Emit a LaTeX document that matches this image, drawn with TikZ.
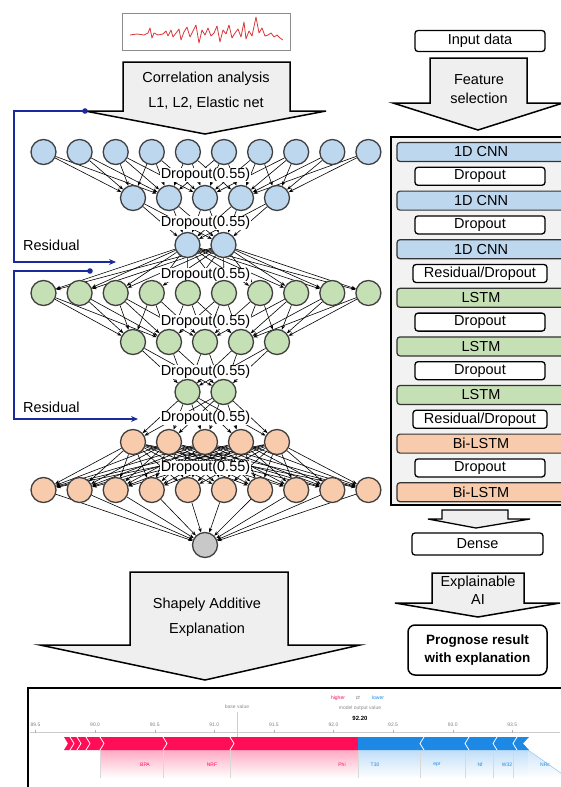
\documentclass[tikz,border=0pt]{standalone}
\usepackage{fontspec}
\setmainfont{Liberation Sans}
\newfontfamily\dejavu{DejaVu Sans}
\usetikzlibrary{arrows.meta}
\definecolor{nblue}{HTML}{BDD7EE}
\definecolor{ngreen}{HTML}{C5E0B4}
\definecolor{norange}{HTML}{F8CBAD}
\definecolor{ngray}{HTML}{C8C8C8}
\definecolor{navy}{HTML}{1A2A9A}
\definecolor{shapred}{HTML}{FF0D57}
\definecolor{shapblue}{HTML}{1E88E5}
\definecolor{arrowfill}{HTML}{EFEFEF}
\definecolor{panelfill}{HTML}{F2F2F2}
\definecolor{sigred}{HTML}{D9383A}
\pgfdeclarelayer{bglayer}
\pgfdeclarelayer{edgelayer}
\pgfdeclarelayer{labellayer}
\pgfsetlayers{bglayer,edgelayer,labellayer,main}
\begin{document}
\begin{tikzpicture}[x=1pt,y=-1pt,
  neuron/.style={circle,draw=black!75,line width=1.3pt,minimum size=25pt,inner sep=0pt},
  edge/.style={line width=0.6pt,-{Stealth[length=4.5pt,width=3.5pt]}},
  droplabel/.style={fill=white,inner sep=0.6pt,font=\fontsize{14.5}{16}\selectfont},
  blockarrow/.style={fill=arrowfill,draw=black,line width=1.5pt,line join=miter},
  txt/.style={font=\fontsize{14.5}{16}\selectfont,inner sep=0pt},
  layerbar/.style={draw=black!80,line width=1.2pt,rounded corners=3pt,minimum width=168pt,minimum height=19pt,inner sep=0pt,font=\fontsize{14.5}{16}\selectfont},
  wbox/.style={draw=black,fill=white,line width=1.3pt,rounded corners=3pt,minimum width=130pt,minimum height=18pt,inner sep=0pt,font=\fontsize{14.5}{16}\selectfont},
  resid/.style={draw=navy,line width=1.8pt},
  tiny/.style={font=\fontsize{5}{6}\selectfont,inner sep=0pt},
  sep/.style={draw=black!15,line width=0.5pt},
  ]
\useasboundingbox (0,0) rectangle (560,787);
\begin{pgfonlayer}{bglayer}
\fill[white] (0,0) rectangle (560,787);
\end{pgfonlayer}

% input signal
\node[draw=black!45,line width=1pt,minimum width=168pt,minimum height=37pt,inner sep=0pt] (sig) at (206,31.5) {};
\draw[sigred,line width=0.8pt,line join=round] plot coordinates {(130,35) (137,34) (144,35) (148,33) (150,28) (152,38) (154,33) (158,35) (163,34) (166,31) (168,36) (171,30) (173,37) (176,33) (179,29) (181,40) (184,32) (187,27) (190,37) (193,31) (196,25) (199,43) (202,30) (205,35) (208,28) (211,36) (214,33) (217,26) (220,42) (223,30) (226,34) (229,25) (232,38) (235,33) (238,29) (241,37) (244,22) (246,39) (249,31) (252,36) (256,17) (259,33) (262,28) (265,36) (268,35) (271,33) (274,37) (277,35) (280,38) (283,40)};

% correlation arrow
\draw[blockarrow] (123,62) -- (290,62) -- (290,111) -- (326,111) -- (205,134) -- (85,111) -- (123,111) -- cycle;
\node[txt] (corr1) at (206,79) {Correlation analysis};
\node[txt] (corr2) at (206,103) {L1, L2, Elastic net};

% neurons
\foreach \i in {0,...,9} {
  \node[neuron,fill=nblue] (a\i) at ({43.5+36.1*\i},152) {};
  \node[neuron,fill=ngreen] (d\i) at ({43.5+36.1*\i},293) {};
  \node[neuron,fill=norange] (h\i) at ({43.5+36.1*\i},490) {};
}
\foreach \j in {0,...,4} {
  \node[neuron,fill=nblue] (b\j) at ({133+36*\j},198) {};
  \node[neuron,fill=ngreen] (e\j) at ({133+36*\j},342) {};
  \node[neuron,fill=norange] (g\j) at ({133+36*\j},442) {};
}
\foreach \k in {0,1} {
  \node[neuron,fill=nblue] (c\k) at ({187.5+36*\k},245) {};
  \node[neuron,fill=ngreen] (f\k) at ({187.5+36*\k},392) {};
}
\node[neuron,fill=ngray] (out) at (205,545) {};

% edges
\begin{pgfonlayer}{edgelayer}
\foreach \i in {0,...,9} {
  \pgfmathtruncatemacro{\cc}{\i/2}
  \foreach \dd in {-1,0,1} {
    \pgfmathtruncatemacro{\jj}{\cc+\dd}
    \ifnum\jj>-1 \ifnum\jj<5
      \draw[edge] (a\i) -- (b\jj);
      \draw[edge] (d\i) -- (e\jj);
    \fi\fi
  }
}
\foreach \j in {0,...,4} {
  \foreach \k in {0,1} {
    \draw[edge] (b\j) -- (c\k);
    \draw[edge] (e\j) -- (f\k);
    \draw[edge] (f\k) -- (g\j);
  }
  \foreach \i in {0,...,9} {
    \draw[edge] (g\j) -- (h\i);
  }
}
\foreach \k in {0,1} {
  \foreach \i in {0,...,9} {
    \draw[edge] (c\k) -- (d\i);
  }
}
\foreach \i in {0,...,9} {
  \draw[edge] (h\i) -- (out);
}
\end{pgfonlayer}

% dropout labels
\begin{pgfonlayer}{labellayer}
\foreach \y [count=\n] in {175,223,275,322,372,418,468} {
  \node[droplabel] (drop\n) at (205.5,\y) {Dropout(0.55)};
}
\end{pgfonlayer}

% residual connections
\coordinate (rs1) at (85,111);
\coordinate (rc1) at (14,111);
\coordinate (rc2) at (14,262);
\coordinate (re1) at (116,262);
\draw[resid,-{Stealth[length=7pt,width=6pt]}] (rs1) -- (rc1) -- (rc2) -- (re1);
\fill[navy] (rs1) circle (2.8pt);
\node[txt,anchor=west] (res1) at (23,245) {Residual};

\coordinate (rs2) at (90,271);
\coordinate (rc3) at (14,271);
\coordinate (rc4) at (14,419);
\coordinate (re2) at (138,419);
\draw[resid,-{Stealth[length=7pt,width=6pt]}] (rs2) -- (rc3) -- (rc4) -- (re2);
\fill[navy] (rs2) circle (2.8pt);
\node[txt,anchor=west] (res2) at (23,407) {Residual};

% right column
\node[wbox,minimum height=21pt] (inp) at (480,41) {Input data};
\draw[blockarrow] (430,58) -- (527,58) -- (527,103) -- (563,103) -- (478,130) -- (393,103) -- (430,103) -- cycle;
\node[txt] (fs1) at (479,80) {Feature};
\node[txt] (fs2) at (479,98) {selection};

\draw[fill=panelfill,draw=black,line width=1.5pt] (391,137) rectangle (590,505);
\foreach \lab/\kind/\col [count=\n from 0] in {
  1D CNN/b/nblue, Dropout/w/white, 1D CNN/b/nblue, Dropout/w/white, 1D CNN/b/nblue,
  Residual\slash Dropout/r/white, LSTM/b/ngreen, Dropout/w/white, LSTM/b/ngreen, Dropout/w/white,
  LSTM/b/ngreen, Residual\slash Dropout/r/white, Bi-LSTM/b/norange, Dropout/w/white, Bi-LSTM/b/norange} {
  \if b\kind
    \node[layerbar,fill=\col] (L\n) at (481,{152+24.3*\n}) {\lab};
  \else
    \if r\kind
      \node[wbox,minimum width=134pt] (L\n) at (480,{152+24.3*\n}) {\lab};
    \else
      \node[wbox] (L\n) at (480,{152+24.3*\n}) {\lab};
    \fi
  \fi
}
\draw[blockarrow,line width=1.3pt] (442,510) -- (508,510) -- (508,519) -- (530,519) -- (476,528) -- (428,519) -- (442,519) -- cycle;
\node[wbox,minimum width=131pt,minimum height=22pt] (dense) at (477.5,544) {Dense};

\draw[blockarrow] (432,573) -- (524,573) -- (524,603) -- (560,603) -- (478,617) -- (395,603) -- (432,603) -- cycle;
\node[txt] (xai1) at (478,583) {Explainable};
\node[txt] (xai2) at (478,600) {AI};
\node[draw=black,line width=1.5pt,rounded corners=7pt,minimum width=139pt,minimum height=50pt,align=center,inner sep=0pt,font=\fontsize{13.5}{18}\selectfont\bfseries] (prog) at (477.5,650) {Prognose result\\with explanation};

% SHAP arrow
\draw[blockarrow] (130,572) -- (288,572) -- (288,645) -- (360,645) -- (205,680) -- (40,645) -- (130,645) -- cycle;
\node[txt] (sh1) at (207,605) {Shapely Additive};
\node[txt] (sh2) at (207,630) {Explanation};

% SHAP force plot
\shade[top color=shapred!35,bottom color=white] (100,750) rectangle (358,778);
\shade[top color=shapblue!28,bottom color=white] (358,750) rectangle (528,778);
\shade[top color=shapblue!22,bottom color=white] (528,750) -- (565,775) -- (565,778) -- (528,778) -- cycle;
\draw[shapblue!45,line width=0.5pt] (528,750) -- (565,776);
\foreach \x in {100,163,230,358,420,465,493,513} {
  \draw[sep] (\x,750) -- (\x,778);
}
\draw[black!20,line width=0.5pt] (30,732) -- (560,732);
\foreach \lab [count=\k from 0] in {89.5,90.0,90.5,91.0,91.5,92.0,92.5,93.0,93.5} {
  \draw[black!30,line width=0.4pt] ({35.5+59.6*\k},730) -- ({35.5+59.6*\k},733);
  \node[tiny,text=black!50] (tk\k) at ({35.5+59.6*\k},725) {\lab};
}
\draw[black!20,line width=0.5pt] (237,712) -- (237,737);
\fill[shapred] (64,737) -- (358,737) -- (358,750) -- (64,750) -- (68,743.5) -- cycle;
\fill[shapblue] (358,737) -- (529,737) -- (523,743.5) -- (529,750) -- (358,750) -- cycle;
\foreach \x in {70,77,86,100,163,230} {
  \draw[white,line width=0.8pt] (\x,737) -- (\x+4,743.5) -- (\x,750);
}
\foreach \x in {420,465,493,513} {
  \draw[white,line width=0.8pt] (\x+4,737) -- (\x,743.5) -- (\x+4,750);
}
\draw[line width=1.6pt] (28,688) rectangle (590,800);
\node[tiny,text=shapred] (hi) at (338,698) {higher};
\node[tiny,text=black!50] (sw) at (358,698) {\dejavu ⇄};
\node[tiny,text=shapblue] (lo) at (378,698) {lower};
\node[tiny,text=black!45] (mov) at (360,708) {model output value};
\node[tiny,font=\fontsize{6}{7}\selectfont\bfseries] (val) at (360,718) {92.20};
\node[tiny,text=black!45] (bv) at (237,707) {base value};
\foreach \lab/\x/\c in {BPA/145/shapred,NRF/212/shapred,Phi/342/shapred,T30/375/shapblue,epr/437/shapblue,Nf/480/shapblue,W32/507/shapblue,NRc/545/shapblue} {
  \node[tiny,text=\c] (f\lab) at (\x,765) {\lab};
}
\end{tikzpicture}
\end{document}
